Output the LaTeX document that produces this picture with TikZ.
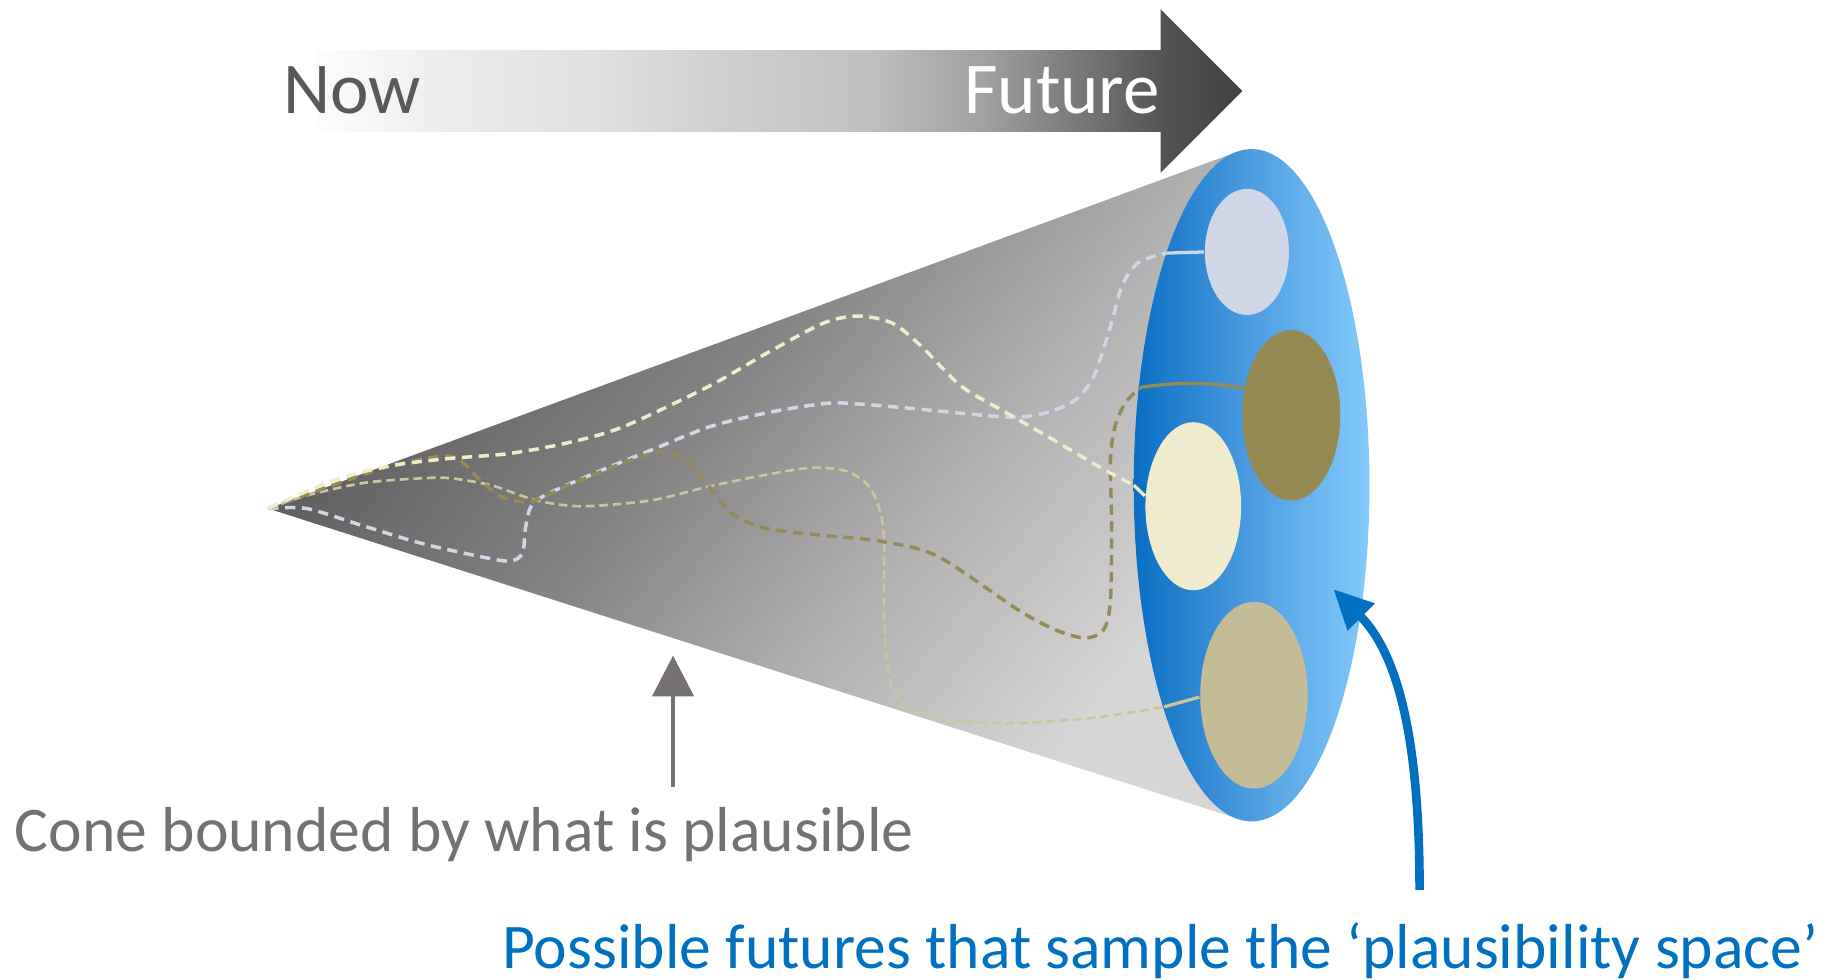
\documentclass[tikz,border=0pt]{standalone}
\usepackage{fontspec}
\setmainfont{Carlito}
\usetikzlibrary{arrows.meta,shapes.geometric,calc}

\definecolor{nowgrey}{HTML}{595959}
\definecolor{labelgrey}{HTML}{767171}
\definecolor{futureblue}{HTML}{0070C0}
\definecolor{pathlav}{HTML}{D0D8E8}
\definecolor{pathcream}{HTML}{F0EBCB}
\definecolor{patholive}{HTML}{968B56}
\definecolor{pathtan}{HTML}{CDC59D}
\definecolor{filllav}{HTML}{CFD7E6}
\definecolor{fillcream}{HTML}{EFEBCF}
\definecolor{fillolive}{HTML}{958A54}
\definecolor{filltan}{HTML}{C4BC96}
\definecolor{pbA}{HTML}{0A6EC3}
\definecolor{pbB}{HTML}{4D9DE0}
\definecolor{pbC}{HTML}{82CBFB}

% light-to-dark time arrow
\pgfdeclarehorizontalshading{timeline}{100bp}{%
  color(0bp)=(white); color(25bp)=(black!1); color(33bp)=(black!8);
  color(40bp)=(black!12); color(46bp)=(black!18); color(55bp)=(black!25);
  color(61bp)=(black!37); color(67.5bp)=(black!57); color(71bp)=(black!68);
  color(75bp)=(black!75); color(100bp)=(black!75)}
% grey body of the cone
\pgfdeclarehorizontalshading{conegrey}{100bp}{%
  color(0bp)=(black!66); color(25bp)=(black!66); color(45bp)=(black!48);
  color(60bp)=(black!30); color(75bp)=(black!16); color(100bp)=(black!16)}
% blue end face
\pgfdeclarehorizontalshading{planeblue}{100bp}{%
  color(0bp)=(pbA); color(25bp)=(pbA); color(50bp)=(pbB);
  color(75bp)=(pbC); color(100bp)=(pbC)}

\begin{document}
\begin{tikzpicture}[x=0.01cm,y=-0.01cm,
  bigtext/.style={font=\fontsize{17.8}{20}\selectfont, inner sep=0pt},
  labeltext/.style={font=\fontsize{15.5}{18}\selectfont, inner sep=0pt},
  trail/.style={dash pattern=on 2.5pt off 1.6pt, line width=0.85pt},
  thintrail/.style={dash pattern=on 2.1pt off 1.2pt, line width=0.65pt},
  trailend/.style={line width=0.8pt},
  disc/.style={ellipse, draw=none, inner sep=0pt}]
\useasboundingbox (0,0) rectangle (1568,840);

% time arrow
\shade[shading=timeline] (272,43) -- (995,43) -- (995,8) -- (1065,78)
  -- (995,148) -- (995,113) -- (272,113) -- cycle;
\node[bigtext, anchor=base west, text=nowgrey] (now) at (242,97) {Now};
\node[bigtext, anchor=base east, text=white] (future) at (995,97) {Future};

% cone
\coordinate (apex) at (230,436);
\coordinate (conetop) at (1060.3,130.3);
\coordinate (conebot) at (1062,702.2);
\shade[shading=conegrey, shading angle=-39] (apex) -- (conetop) -- (conebot) -- cycle;

% end face of the cone
\node[disc, shade, shading=planeblue, minimum width=2.02cm, minimum height=5.76cm]
  (plane) at (1073,416) {};

% possible futures
\node[disc, fill=filllav,   minimum width=0.72cm, minimum height=1.08cm] (f1) at (1069,216) {};
\node[disc, fill=fillolive, minimum width=0.84cm, minimum height=1.46cm] (f2) at (1107,356) {};
\node[disc, fill=fillcream, minimum width=0.82cm, minimum height=1.44cm] (f3) at (1023,434) {};
\node[disc, fill=filltan,   minimum width=0.92cm, minimum height=1.60cm] (f4) at (1075,596) {};

% points where the trails reach the end face
\coordinate (e1) at (1000,217);
\coordinate (e2) at (978,332);
\coordinate (e3) at (972,416);
\coordinate (e4) at (998,606);

% trails from now to each future
\draw[trail, pathlav] plot[smooth] coordinates {(apex) (263,436) (312,451) (362,466)
  (411,477) (437,481) (448,474) (451,450) (460,429) (509,406) (558,386) (608,366)
  (657,354) (706,346) (731,346) (780,350) (854,357) (880,357) (903,352) (923,342)
  (938,322) (952,280) (962,245) (976,225) (e1)};
\draw[trailend, pathlav] (e1) -- (f1.west);

\draw[thintrail, pathtan] plot[smooth] coordinates {(apex) (262,425) (312,414)
  (362,410) (386,410) (421,416) (460,429) (499,434) (558,429) (608,417) (657,407)
  (696,401) (726,404) (745,417) (755,440) (758,469) (758,523) (760,565) (766,592)
  (782,609) (812,617) (870,620) (940,615) (e4)};
\draw[trailend, pathtan] (e4) -- (f4.182);

\draw[trail, patholive] plot[smooth] coordinates {(apex) (288,415) (337,399)
  (381,391) (396,396) (411,411) (430,426) (455,430) (485,417) (534,397) (568,387)
  (588,394) (608,417) (627,440) (657,453) (706,459) (755,464) (804,477) (873,523)
  (905,540) (930,547) (946,540) (952,515) (953,450) (952,395) (956,365) (965,345) (e2)};
\draw[trailend, patholive] (e2) to[bend left=8] (f2.150);

\draw[trail, pathcream] plot[smooth] coordinates {(apex) (288,411) (337,399)
  (386,393) (435,389) (485,380) (534,366) (608,331) (657,303) (706,277) (736,271)
  (765,277) (790,297) (824,331) (863,354) (903,377) (942,400) (e3)};
\draw[trailend, pathcream] (e3) -- (f3.168);

% labels
\node[labeltext, anchor=base west, text=labelgrey] (conelabel) at (12,730)
  {Cone bounded by what is plausible};
\node[labeltext, anchor=base west, text=futureblue] (futurelabel) at (430,830)
  {Possible futures that sample the ‘plausibility space’};

% pointers
\coordinate (coneptr) at (577,562);
\draw[labelgrey, line width=1.15pt, -{Triangle[length=0.35cm, width=0.35cm]}]
  ($(conelabel.north -| coneptr)+(0,-17)$) -- (coneptr);

\coordinate (planeptr) at (1143,505);
\coordinate (bluefoot) at (1217,0);
\draw[futureblue, line width=2.1pt, -{Triangle[length=0.34cm, width=0.31cm]}]
  ($(futurelabel.north -| bluefoot)+(0,-27)$) .. controls (1217,650) and (1203,565) .. (planeptr);
\end{tikzpicture}
\end{document}
